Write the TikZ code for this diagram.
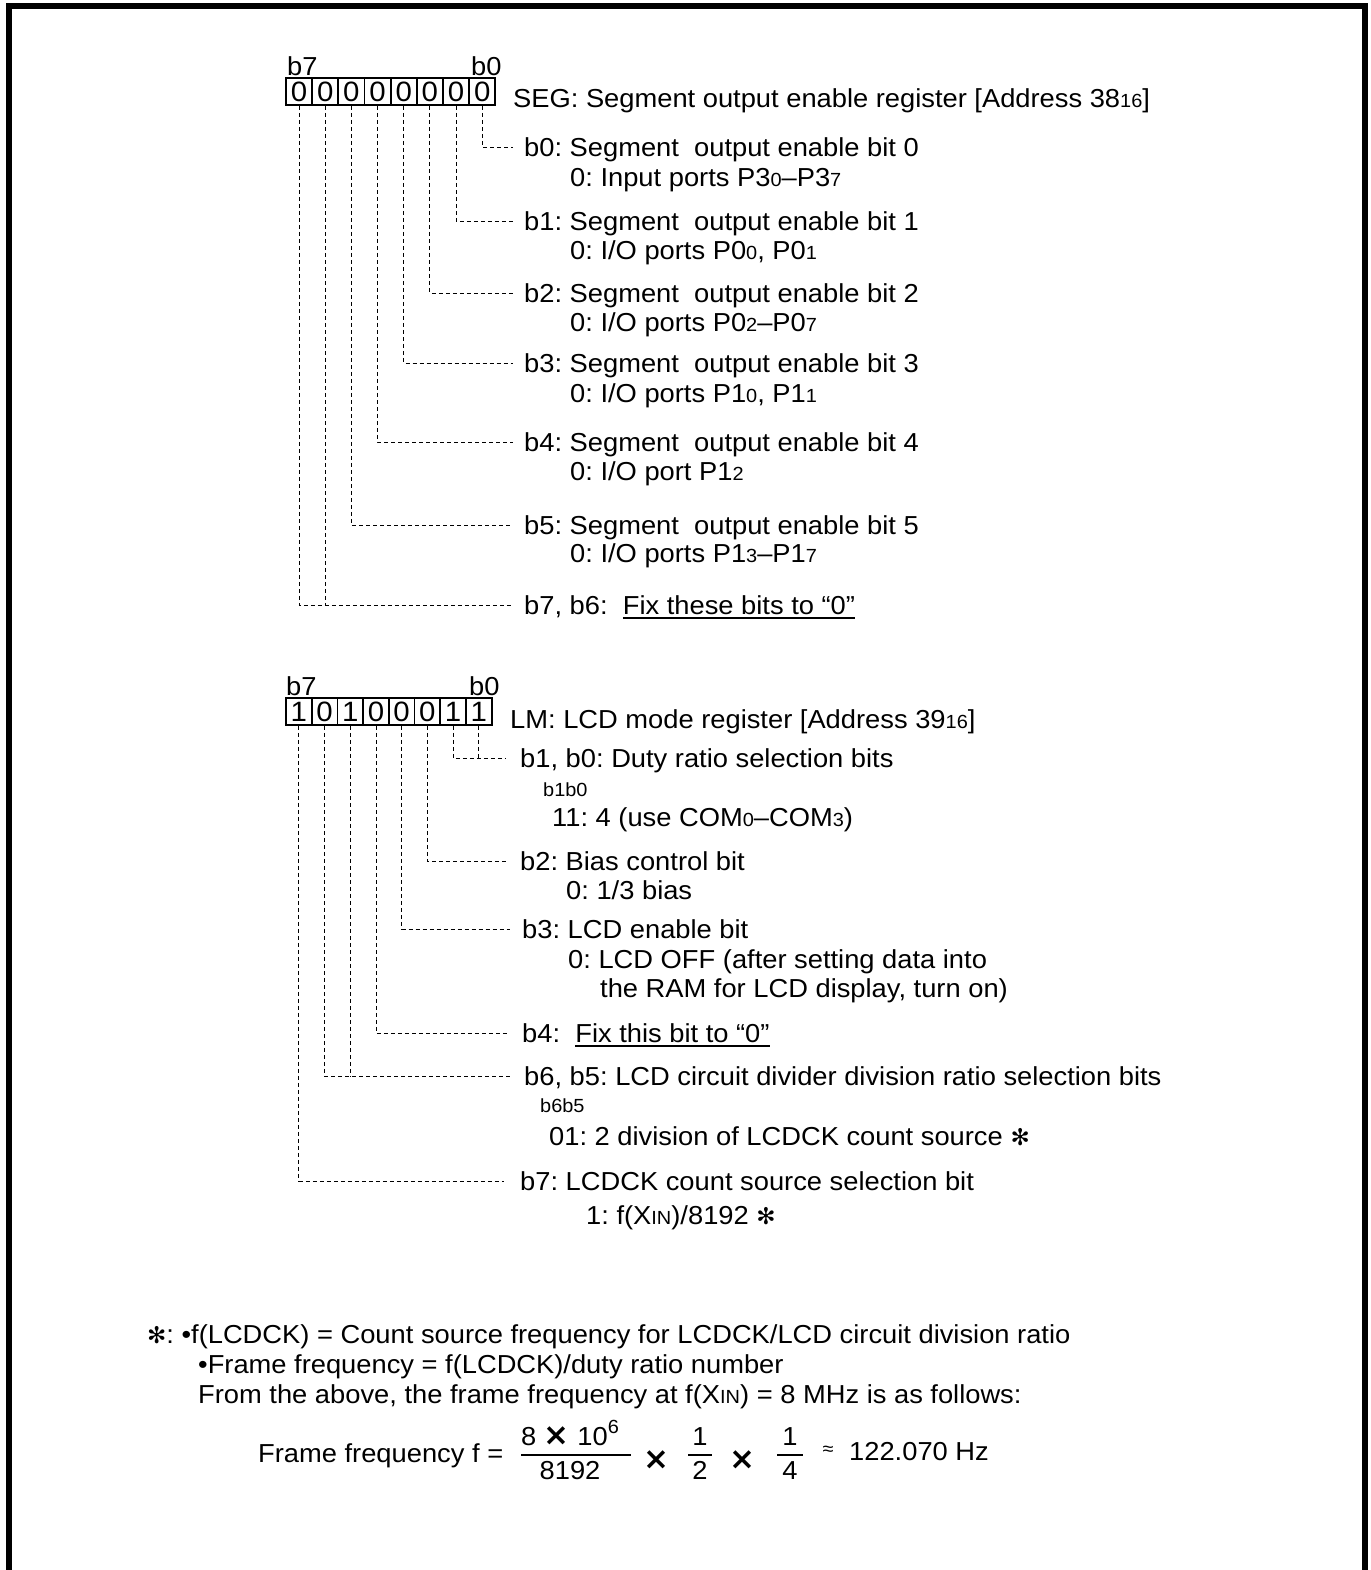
\documentclass[tikz,border=0pt]{standalone}
\usepackage{fontspec}
\setmainfont[FakeStretch=1.05]{Liberation Sans}
\newfontfamily\djv{DejaVu Sans}
\frenchspacing
\newcommand\sm[1]{{\fontsize{19}{19}\selectfont #1}}
\newcommand\astk{{\djv\bfseries\fontsize{23}{23}\selectfont ✻}}
\newcommand\tms{{\djv\bfseries\fontsize{31}{31}\selectfont ×}}
\newcommand\ulx[1]{\setbox0\hbox{#1}\rlap{\rule[-4.5pt]{\wd0}{1.8pt}}\box0}
\tikzset{
  txt/.style={anchor=west, inner sep=0pt, text height=18.8pt, text depth=0pt},
  small/.style={txt, font=\fontsize{19}{19}\selectfont, text height=13.5pt},
  cell/.style={draw, line width=1.8pt, inner sep=0pt, minimum height=27pt, text height=20pt, text depth=0pt, font=\fontsize{28}{28}\selectfont},
  dl/.style={line width=0.9pt, dash pattern=on 4pt off 3pt},
  frame/.style={line width=6pt, line join=miter},
  bar/.style={line width=1.3pt}
}
\begin{document}
\begin{tikzpicture}[x=1pt, y=-1pt, every node/.style={font=\fontsize{26}{30}\selectfont}]
\useasboundingbox (0,0) rectangle (1370,1570);
\draw[frame] (9,1575) -- (9,6.5) -- (1364.5,6.5) -- (1364.5,1575);

% ---------- SEG register ----------
\node[txt] (segb7) at (287,66) {b7};
\node[txt] (segb0) at (471,66) {b0};
\foreach \i/\v in {7/0,6/0,5/0,4/0,3/0,2/0,1/0,0/0}
  \node[cell, minimum width=26.16pt] (seg\i) at ({286+26.16*(7-\i)+13.08}, 91.5) {\v};
\node[txt] (seghead) at (513,98) {SEG: Segment output enable register [Address 38\sm{16}]};

\node[txt] (st0) at (524,147) {b0: Segment\ \ output enable bit 0};
\node[txt] (st0b) at (570,177) {0: Input ports P3\sm{0}–P3\sm{7}};
\node[txt] (st1) at (524,221) {b1: Segment\ \ output enable bit 1};
\node[txt] (st1b) at (570,250) {0: I/O ports P0\sm{0}, P0\sm{1}};
\node[txt] (st2) at (524,293) {b2: Segment\ \ output enable bit 2};
\node[txt] (st2b) at (570,322) {0: I/O ports P0\sm{2}–P0\sm{7}};
\node[txt] (st3) at (524,363) {b3: Segment\ \ output enable bit 3};
\node[txt] (st3b) at (570,393) {0: I/O ports P1\sm{0}, P1\sm{1}};
\node[txt] (st4) at (524,442) {b4: Segment\ \ output enable bit 4};
\node[txt] (st4b) at (570,471) {0: I/O port P1\sm{2}};
\node[txt] (st5) at (524,525) {b5: Segment\ \ output enable bit 5};
\node[txt] (st5b) at (570,553) {0: I/O ports P1\sm{3}–P1\sm{7}};
\node[txt] (st76) at (524,605) {b7, b6:\ \ \ulx{Fix these bits to “0”}};

\foreach \i in {0,...,5}
  \draw[dl] (seg\i.south) |- ([xshift=-11pt]st\i.west);
\draw[dl] (seg7.south) |- ([xshift=-11pt]st76.west);
\draw[dl] (seg6.south) -- (seg6.south |- st76.west);

% ---------- LM register ----------
\node[txt] (lmb7) at (286,686) {b7};
\node[txt] (lmb0) at (469,686) {b0};
\foreach \i/\v in {7/1,6/0,5/1,4/0,3/0,2/0,1/1,0/1}
  \node[cell, minimum width=25.7pt] (lm\i) at ({286+25.7*(7-\i)+12.85}, 711.5) {\v};
\node[txt] (lmhead) at (510,719) {LM: LCD mode register [Address 39\sm{16}]};

\node[txt] (lt10) at (520,758) {b1, b0: Duty ratio selection bits};
\node[small] (lt10h) at (543,790) {b1b0};
\node[txt] (lt10v) at (552,817) {11: 4 (use COM\sm{0}–COM\sm{3})};
\node[txt] (lt2) at (520,861) {b2: Bias control bit};
\node[txt] (lt2v) at (566,890) {0: 1/3 bias};
\node[txt] (lt3) at (522,929) {b3: LCD enable bit};
\node[txt] (lt3v) at (568,959) {0: LCD OFF (after setting data into};
\node[txt] (lt3w) at (600,988) {the RAM for LCD display, turn on)};
\node[txt] (lt4) at (522,1033) {b4:\ \ \ulx{Fix this bit to “0”}};
\node[txt] (lt65) at (524,1076) {b6, b5: LCD circuit divider division ratio selection bits};
\node[small] (lt65h) at (540,1106) {b6b5};
\node[txt] (lt65v) at (549,1136) {01: 2 division of LCDCK count source \astk};
\node[txt] (lt7) at (520,1181) {b7: LCDCK count source selection bit};
\node[txt] (lt7v) at (586,1215) {1: f(X\sm{IN})/8192 \astk};

\draw[dl] (lm1.south) |- ([xshift=-15pt]lt10.west);
\draw[dl] (lm0.south) -- (lm0.south |- lt10.west);
\draw[dl] (lm2.south) |- ([xshift=-12pt]lt2.west);
\draw[dl] (lm3.south) |- ([xshift=-12pt]lt3.west);
\draw[dl] (lm4.south) |- ([xshift=-14pt]lt4.west);
\draw[dl] (lm6.south) |- ([xshift=-14pt]lt65.west);
\draw[dl] (lm5.south) -- (lm5.south |- lt65.west);
\draw[dl] (lm7.south) |- ([xshift=-16pt]lt7.west);

% ---------- footnote ----------
\node[txt] (fn1) at (147,1334) {\astk: •f(LCDCK) = Count source frequency for LCDCK/LCD circuit division ratio};
\node[txt] (fn2) at (198,1364) {•Frame frequency = f(LCDCK)/duty ratio number};
\node[txt] (fn3) at (198,1394) {From the above, the frame frequency at f(X\sm{IN}) = 8 MHz is as follows:};

\node[txt] (ff) at (258,1453) {Frame frequency f =};
\node[txt, anchor=center] (num1) at (570,1436) {8 \tms\ 10\raisebox{12pt}{\sm{6}}};
\node[txt, anchor=center] (den1) at (570,1470) {8192};
\draw[bar] (521,1455) -- (631,1455);
\node[txt, anchor=center] (x1) at (656,1460) {\tms};
\node[txt, anchor=center] (num2) at (700,1436) {1};
\node[txt, anchor=center] (den2) at (700,1470) {2};
\draw[bar] (688,1455) -- (712,1455);
\node[txt, anchor=center] (x2) at (742,1460) {\tms};
\node[txt, anchor=center] (num3) at (790,1436) {1};
\node[txt, anchor=center] (den3) at (790,1470) {4};
\draw[bar] (777,1455) -- (803,1455);
\node[txt, anchor=center, font=\fontsize{19}{19}\selectfont, text height=8pt] (apx) at (828,1451) {≈};
\node[txt] (res) at (849,1451) {122.070 Hz};
\end{tikzpicture}
\end{document}
